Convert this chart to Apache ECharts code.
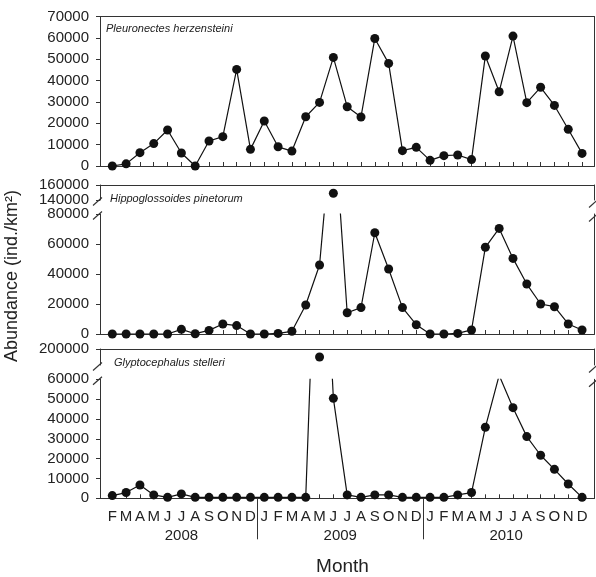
<!DOCTYPE html>
<html><head><meta charset="utf-8">
<script src="https://cdn.jsdelivr.net/npm/echarts@6/dist/echarts.min.js"></script>
<style>html,body{margin:0;padding:0;background:#fff}#c{width:596px;height:577px}</style>
</head><body><div id="c"></div>
<script>
// ---- data ----
const monthLetters = ['F','M','A','M','J','J','A','S','O','N','D',
  'J','F','M','A','M','J','J','A','S','O','N','D',
  'J','F','M','A','M','J','J','A','S','O','N','D'];
const years = ['2008','2009','2010'];
const yearCenters = [5, 16.5, 28.5];
const yearDividers = [10.5, 22.5];
const speciesNames = ['Pleuronectes herzensteini','Hippoglossoides pinetorum','Glyptocephalus stelleri'];
const pleuronectes = [0,1000,6250,10500,16900,6100,0,11700,13750,45300,7800,
  21100,9000,7000,23100,29800,50900,27800,23000,59800,48100,7200,8750,
  2650,4850,5150,3000,51600,34800,60900,29700,36900,28400,17200,5900];
const hippoglossoides = [0,0,0,0,0,3100,200,2400,6700,5600,0,
  0,400,1800,19300,46000,149000,14200,17600,67500,43300,17600,6200,
  0,0,400,2700,57800,70400,50400,33300,20000,18200,6700,2700];
const glyptocephalus = [1350,2900,6700,1700,500,2200,500,500,500,500,500,
  500,500,500,500,190000,50400,1700,500,1700,1700,500,500,
  500,500,1700,2900,35800,62000,45700,31100,21700,14600,7200,500];
const yTicks1 = [0,70000,10000];
const yTicks2Low = [0,80000,20000], yTicks2High = [140000,160000,20000];
const yTicks3Low = [0,60000,10000], yTicks3High = [180000,200000,20000];

// ---- layout ----
const L = 100, R = 1.5;
const xMin = -0.89, xMax = 34.9;
const AX = '#333';
const FONT = '"Liberation Sans", Arial, sans-serif';
const grids = [
  {left:L, right:R, top:16.7, height:149.3},
  {left:L, right:R, top:185, height:15},
  {left:L, right:R, top:214, height:120},
  {left:L, right:R, top:349, height:16},
  {left:L, right:R, top:379.3, height:119}
].map(g => Object.assign({outerBoundsMode:'none', containLabel:false}, g));

const monthIdx = monthLetters.map((_, i) => i);
function xAx(gi, pos, kind) {
  const a = {type:'value', gridIndex:gi, position:pos, min:xMin, max:xMax,
    splitLine:{show:false},
    axisLine:{show:true, onZero:false, lineStyle:{color:AX, width:1}},
    axisTick:{show:false}, axisLabel:{show:false}};
  if (kind === 'ticks' || kind === 'months') {
    a.axisTick = {show:true, inside:true, length:4, customValues:monthIdx, lineStyle:{color:AX}};
  }
  if (kind === 'months') {
    a.axisLabel = {show:true, customValues:monthIdx, margin:11, color:'#222',
      fontFamily:FONT, fontSize:15, formatter:v => monthLetters[Math.round(v)] || ''};
  }
  if (kind === 'years') {
    a.axisLine = {show:false};
    a.axisTick = {show:true, inside:false, length:41, customValues:yearDividers, lineStyle:{color:AX}};
    a.axisLabel = {show:true, customValues:yearCenters, margin:30, color:'#222',
      fontFamily:FONT, fontSize:15, formatter:v => years[yearCenters.indexOf(v)] || ''};
  }
  return a;
}
function yAx(gi, pos, t, labels, only) {
  const a = {type:'value', gridIndex:gi, position:pos, min:t[0], max:t[1], interval:t[2],
    splitLine:{show:false},
    axisLine:{show:true, onZero:false, lineStyle:{color:AX, width:1}},
    axisTick:{show:labels, inside:false, length:4, lineStyle:{color:AX}},
    axisLabel:{show:labels, margin:11, color:'#222', fontFamily:FONT, fontSize:15,
      formatter:v => String(v)}};
  if (only) { a.axisTick.customValues = only; a.axisLabel.customValues = only; }
  return a;
}
const xAxis = [
  xAx(0,'bottom','ticks'), xAx(0,'top'),
  xAx(1,'top'),
  xAx(2,'bottom','ticks'),
  xAx(3,'top'),
  xAx(4,'bottom','months'), xAx(4,'bottom','years')
];
const yAxis = [
  yAx(0,'left',yTicks1,true), yAx(0,'right',yTicks1,false),
  yAx(1,'left',yTicks2High,true), yAx(1,'right',yTicks2High,false),
  yAx(2,'left',yTicks2Low,true), yAx(2,'right',yTicks2Low,false),
  yAx(3,'left',yTicks3High,true,[200000]), yAx(3,'right',yTicks3High,false),
  yAx(4,'left',yTicks3Low,true), yAx(4,'right',yTicks3Low,false)
];
const pts = arr => arr.map((v, i) => [i, v]);
const lineS = (arr, xi, yi) => ({type:'line', xAxisIndex:xi, yAxisIndex:yi, data:pts(arr),
  clip:true, symbol:'circle', symbolSize:9, showAllSymbol:true, animation:false,
  itemStyle:{color:'#111', opacity:1}, lineStyle:{color:'#111', width:1.2}});
const scatS = (arr, xi, yi) => ({type:'scatter', xAxisIndex:xi, yAxisIndex:yi, data:pts(arr),
  clip:true, symbol:'circle', symbolSize:9, animation:false, itemStyle:{color:'#111', opacity:1}});
const series = [
  lineS(pleuronectes, 0, 0),
  scatS(hippoglossoides, 2, 2),
  lineS(hippoglossoides, 3, 4),
  scatS(glyptocephalus, 4, 6),
  lineS(glyptocephalus, 5, 8)
];

// break marks (decoration) at segment ends
const W = 596;
const rightX = W - R;
function mark(cx, cy) {
  return {type:'line', shape:{x1:cx-4.5, y1:cy+4, x2:cx+4.5, y2:cy-4},
    style:{stroke:AX, lineWidth:1.2}, z:100};
}
const brk = [];
[[grids[1], grids[2]], [grids[3], grids[4]]].forEach(([u, lo]) => {
  const e1 = u.top + u.height + 1.5, e2 = lo.top + 1.5;
  brk.push(mark(L - 2.5, e1), mark(L - 2.5, e2), mark(rightX - 1, e1 + 2), mark(rightX - 1, e2 + 2));
});
const graphic = brk.concat([
  {type:'text', left:106, top:30.7 - 7, style:{text:speciesNames[0], font:'italic 11px ' + FONT, fill:'#222'}},
  {type:'text', left:110, top:200 - 7, style:{text:speciesNames[1], font:'italic 11px ' + FONT, fill:'#222'}},
  {type:'text', left:114, top:364 - 7, style:{text:speciesNames[2], font:'italic 11px ' + FONT, fill:'#222'}},
  {type:'text', x:12.5, y:276, rotation:Math.PI/2,
    style:{text:'Abundance (ind./km²)', font:'18px ' + FONT, fill:'#222', align:'center', verticalAlign:'middle'}},
  {type:'text', x:342.5, y:567,
    style:{text:'Month', font:'19px ' + FONT, fill:'#222', align:'center', verticalAlign:'middle'}}
]);

const chart = echarts.init(document.getElementById('c'), null, {renderer:'canvas'});
chart.setOption({animation:false, backgroundColor:'#fff', grid:grids, xAxis, yAxis, series, graphic});
</script></body></html>
